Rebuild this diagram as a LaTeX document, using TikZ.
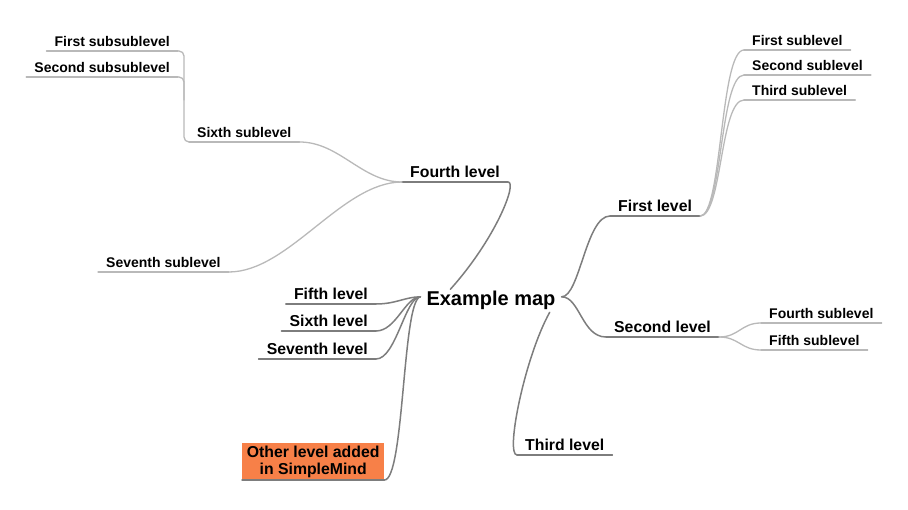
\documentclass[tikz,border=0pt]{standalone}
\usepackage{fontspec}
\setmainfont{Liberation Sans}
\definecolor{linegray}{RGB}{125,125,125}
\definecolor{sublinegray}{RGB}{185,185,185}
\definecolor{simpleorange}{RGB}{247,128,72}
\begin{document}
\begin{tikzpicture}[
       x=1pt, y=-1pt,
       mapnode/.style={font=\bfseries\fontsize{20}{24}\selectfont, inner xsep=6pt, inner ysep=2pt},
       mainlvl/.style={font=\bfseries\fontsize{15.8}{17}\selectfont, inner xsep=8pt, inner ysep=4.5pt, text depth=0pt},
       sublvl/.style={font=\bfseries\fontsize{14}{16}\selectfont, inner xsep=8pt, inner ysep=4pt, text depth=0pt},
       mainline/.style={draw=linegray, line width=1.5pt, line cap=round},
       subline/.style={draw=sublinegray, line width=1.3pt, line cap=round}
   ]
   \useasboundingbox (0,0) rectangle (908,510);

   \node[mapnode, anchor=base] (map) at (491,306) {Example map};
   \coordinate (mapl) at ([yshift=4pt]map.west);
   \coordinate (mapr) at ([yshift=4pt]map.east);
   \coordinate (mapt) at ([xshift=30pt]map.north west);
   \coordinate (mapb) at ([xshift=-12pt]map.south east);

   % main levels
   \node[mainlvl, anchor=south west] (first) at (610,216) {First level};
   \node[mainlvl, anchor=south west] (second) at (606,337) {Second level};
   \node[mainlvl, anchor=south west] (third) at (517,455) {Third level};
   \node[mainlvl, anchor=south west] (fourth) at (402,182) {Fourth level};
   \node[mainlvl, anchor=south east] (fifth) at (376,304) {Fifth level};
   \node[mainlvl, anchor=south east] (sixth) at (376,331) {Sixth level};
   \node[mainlvl, anchor=south east] (seventh) at (376,359) {Seventh level};
   \node[mainlvl, anchor=south west, fill=simpleorange, align=center, minimum width=142pt,
         inner xsep=4.5pt, inner ysep=3pt, text depth=2pt] (other) at (242,480) {Other level added\\in SimpleMind};

   % sublevels
   \node[sublvl, anchor=south west] (subone) at (744,50) {First sublevel};
   \node[sublvl, anchor=south west] (subtwo) at (744,75) {Second sublevel};
   \node[sublvl, anchor=south west] (subthree) at (744,100) {Third sublevel};
   \node[sublvl, anchor=south west] (subfour) at (761,323) {Fourth sublevel};
   \node[sublvl, anchor=south west] (subfive) at (761,350) {Fifth sublevel};
   \node[sublvl, anchor=south west] (subsix) at (189,142) {Sixth sublevel};
   \node[sublvl, anchor=south west] (subseven) at (98,272) {Seventh sublevel};
   \node[sublvl, anchor=south east] (subsubone) at (178,51) {First subsublevel};
   \node[sublvl, anchor=south east] (subsubtwo) at (178,77) {Second subsublevel};
   \coordinate (sixjoin) at (184,100);

   % underlines
   \foreach \n in {first,second,third,fourth,fifth,sixth,seventh,other}
      \draw[mainline] (\n.south west) -- (\n.south east);
   \foreach \n in {subone,subtwo,subthree,subfour,subfive,subsix,subseven,subsubone,subsubtwo}
      \draw[subline] (\n.south west) -- (\n.south east);

   % right side
   \draw[mainline] (mapr) .. controls +(18,0) and +(-24,0) .. (first.south west);
   \draw[mainline] (mapr) .. controls +(18,0) and +(-24,0) .. (second.south west);
   \draw[mainline] (mapb) .. controls +(-25,45) and +(-12,0) .. (third.south west);
   \foreach \n in {subone,subtwo,subthree}
      \draw[subline] (first.south east) .. controls +(22,0) and +(-24,0) .. (\n.south west);
   \foreach \n in {subfour,subfive}
      \draw[subline] (second.south east) .. controls +(20,0) and +(-20,0) .. (\n.south west);

   % left side
   \draw[mainline] (fourth.south east) .. controls +(10,0) and +(45,-50) .. (mapt);
   \draw[subline] (fourth.south west) .. controls +(-40,0) and +(40,0) .. (subsix.south east);
   \draw[subline] (fourth.south west) .. controls +(-60,0) and +(60,0) .. (subseven.south east);
   \draw[subline, rounded corners=5pt] (subsubone.south east) -| (sixjoin) |- (subsix.south west);
   \draw[subline, rounded corners=5pt] (subsubtwo.south east) -| (sixjoin);
   \foreach \n in {fifth,sixth,seventh}
      \draw[mainline] (mapl) .. controls +(-15,0) and +(20,0) .. (\n.south east);
   \draw[mainline] (mapl) .. controls +(-18,3) and +(20,0) .. (other.south east);
\end{tikzpicture}
\end{document}
